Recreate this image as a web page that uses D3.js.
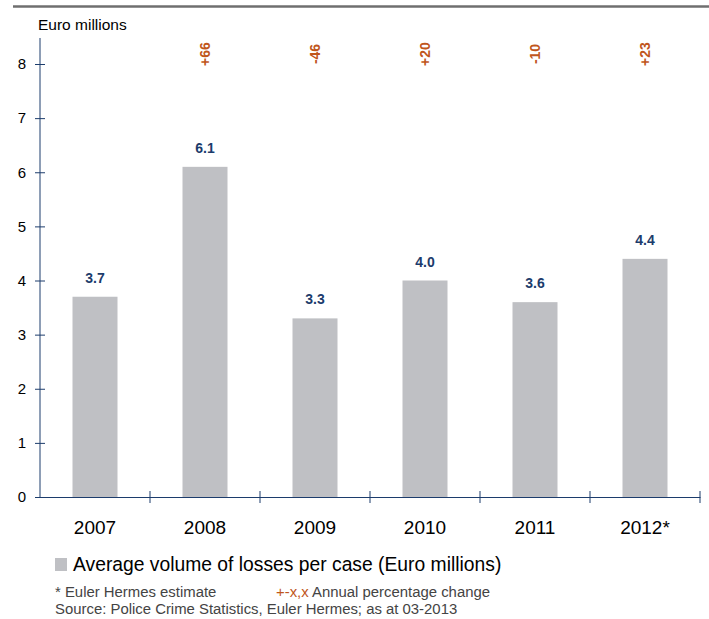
<!DOCTYPE html>
<html>
<head>
<meta charset="utf-8">
<script src="https://cdn.jsdelivr.net/npm/d3@7"></script>
<style>
  body { margin: 0; background: #fff; }
  svg { font-family: "Liberation Sans", Arial, sans-serif; }
</style>
</head>
<body>
<svg id="chart" width="709" height="619"></svg>
<script>
// Average losses per case, Euler Hermes

const years = ['2007', '2008', '2009', '2010', '2011', '2012*'];
const losses = [3.7, 6.1, 3.3, 4.0, 3.6, 4.4];
const changes = ['', '+66', '-46', '+20', '-10', '+23'];
const yTicks = [0, 1, 2, 3, 4, 5, 6, 7, 8];

const FONT = '"Liberation Sans", Arial, sans-serif';
const svg = d3.select('#chart');

// top rule
svg.append('line')
  .attr('x1', 13).attr('x2', 709)
  .attr('y1', 6.5).attr('y2', 6.5)
  .attr('stroke', '#6f6f6f')
  .attr('stroke-width', 2.5);

const y = d3.scaleLinear()
  .domain([0, 8])
  .range([497, 64]);

const band = d3.scaleBand().domain(years).range([40, 700]);
const mid = d => band(d) + band.bandwidth() / 2;

// bars
svg.append('g')
  .selectAll('rect')
  .data(years)
  .join('rect')
    .attr('x', d => mid(d) - 22.5)
    .attr('width', 45)
    .attr('y', (d, i) => y(losses[i]))
    .attr('height', (d, i) => y(0) - y(losses[i]))
    .attr('fill', '#bfc0c4');

// value labels
svg.append('g')
  .selectAll('text')
  .data(years)
  .join('text')
    .attr('x', d => mid(d))
    .attr('y', (d, i) => y(losses[i]) - 14)
    .attr('text-anchor', 'middle')
    .attr('font-size', 14)
    .attr('font-weight', 'bold')
    .attr('fill', '#1c3c6c')
    .text((d, i) => losses[i].toFixed(1));

// annual change labels (rotated)
svg.append('g')
  .selectAll('text')
  .data(years.filter((d, i) => changes[i]))
  .join('text')
    .attr('transform', d => `translate(${mid(d) + 5},54) rotate(-90)`)
    .attr('text-anchor', 'middle')
    .attr('font-size', 14)
    .attr('font-weight', 'bold')
    .attr('fill', '#c0561c')
    .text(d => changes[years.indexOf(d)]);

// y axis
const yAxis = svg.append('g')
  .attr('transform', 'translate(40,0)')
  .call(d3.axisLeft(y).tickValues(yTicks).tickSize(5).tickSizeOuter(0));
yAxis.select('.domain').attr('stroke', '#1c3c6c').attr('d', 'M0,38V497');
yAxis.selectAll('.tick line').attr('stroke', '#1c3c6c').attr('x1', 5).attr('x2', -5);
yAxis.selectAll('.tick text')
  .attr('x', -14)
  .attr('font-size', 15)
  .attr('font-family', FONT)
  .attr('fill', '#000');

// x axis
const xAxis = svg.append('g')
  .attr('transform', `translate(0,${y(0)})`)
  .call(d3.axisBottom(band).tickSize(0).tickSizeOuter(0));
xAxis.select('.domain').attr('stroke', '#1c3c6c');
xAxis.selectAll('.tick text')
  .attr('y', 37)
  .attr('dy', null)
  .attr('font-size', 19)
  .attr('font-family', FONT)
  .attr('fill', '#000');
xAxis.selectAll('.sep')
  .data(years)
  .join('line')
    .attr('class', 'sep')
    .attr('x1', d => band(d) + band.bandwidth())
    .attr('x2', d => band(d) + band.bandwidth())
    .attr('y1', -6).attr('y2', 6)
    .attr('stroke', '#1c3c6c');

// axis title
svg.append('text')
  .attr('x', 38).attr('y', 30)
  .attr('font-size', 15.5)
  .text('Euro millions');

// legend
svg.append('rect')
  .attr('x', 55).attr('y', 558)
  .attr('width', 12).attr('height', 13)
  .attr('fill', '#bfc0c4');
svg.append('text')
  .attr('x', 73).attr('y', 571)
  .attr('font-size', 19.3)
  .text('Average volume of losses per case (Euro millions)');

// notes
svg.append('text')
  .attr('x', 55).attr('y', 597)
  .attr('font-size', 14.9)
  .attr('fill', '#444')
  .text('* Euler Hermes estimate');
const note = svg.append('text')
  .attr('x', 276).attr('y', 597)
  .attr('font-size', 14.9)
  .attr('fill', '#444');
note.append('tspan').attr('fill', '#c0561c').text('+-x,x');
note.append('tspan').text(' Annual percentage change');
svg.append('text')
  .attr('x', 55).attr('y', 614)
  .attr('font-size', 14.9)
  .attr('fill', '#444')
  .text('Source: Police Crime Statistics, Euler Hermes; as at 03-2013');
</script>
</body>
</html>
